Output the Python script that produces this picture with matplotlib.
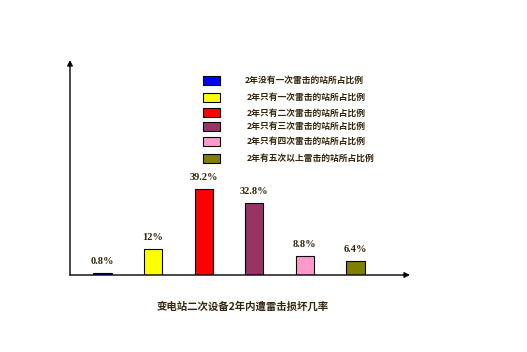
import matplotlib.pyplot as plt
import matplotlib.patches as patches

plt.rcParams['font.family'] = ['Noto Sans CJK SC', 'DejaVu Sans']

labels = ['2年没有一次雷击的站所占比例',
          '2年只有一次雷击的站所占比例',
          '2年只有二次雷击的站所占比例',
          '2年只有三次雷击的站所占比例',
          '2年只有四次雷击的站所占比例',
          '2年有五次以上雷击的站所占比例']
values = [0.8, 12, 39.2, 32.8, 8.8, 6.4]
value_text = ['0.8%', '12%', '39.2%', '32.8%', '8.8%', '6.4%']
colors = ['#0000ff', '#ffff00', '#ff0000', '#993366', '#ff99cc', '#808000']
title = '变电站二次设备2年内遭雷击损坏几率'

txtcolor = '#33260d'

fig = plt.figure(figsize=(5.27, 3.52), dpi=100)
ax = fig.add_axes([70/527, 77/352, 340/527, 215/352])
ax.patch.set_alpha(0)

x = list(range(len(values)))
ax.bar(x, values, width=0.36, color=colors, edgecolor='black', linewidth=0.8)
for xi, v, t in zip(x, values, value_text):
    ax.annotate(t, (xi, v), xytext=(0, 5), textcoords='offset points',
                ha='center', va='bottom', fontsize=7.5, color=txtcolor,
                family='Liberation Serif', weight='bold')

ax.set_xlim(-0.642, 6.077)
ax.set_ylim(0, 98.2)
for s in ax.spines.values():
    s.set_visible(False)
ax.set_xticks([])
ax.set_yticks([])

# axis arrows
ax.annotate('', xy=(0, 1.0), xytext=(0, 0), xycoords='axes fraction',
            arrowprops=dict(arrowstyle='-|>', color='black', lw=1.0,
                            mutation_scale=8, shrinkA=0, shrinkB=0))
ax.annotate('', xy=(1.0, 0), xytext=(0, 0), xycoords='axes fraction',
            arrowprops=dict(arrowstyle='-|>', color='black', lw=1.0,
                            mutation_scale=8, shrinkA=0, shrinkB=0))

# hand made legend (uneven row spacing as in original)
rows_y = [80.5, 97.5, 113, 126, 141, 158]
for i, (lab, c) in enumerate(zip(labels, colors)):
    y = rows_y[i]
    fig.patches.append(patches.Rectangle((203/527, 1 - (y + 4.5)/352), 17/527, 9/352,
                                         transform=fig.transFigure, facecolor=c,
                                         edgecolor='black', linewidth=0.8))
    fig.text((245 if i == 0 else 247)/527, 1 - y/352, lab, fontsize=6.3,
             color=txtcolor, va='center', ha='left', weight='bold')

fig.text(243/527, 1 - 307/352, title, fontsize=7.5, color=txtcolor,
         ha='center', va='center', weight='bold')

fig.savefig('out.png', dpi=100)
